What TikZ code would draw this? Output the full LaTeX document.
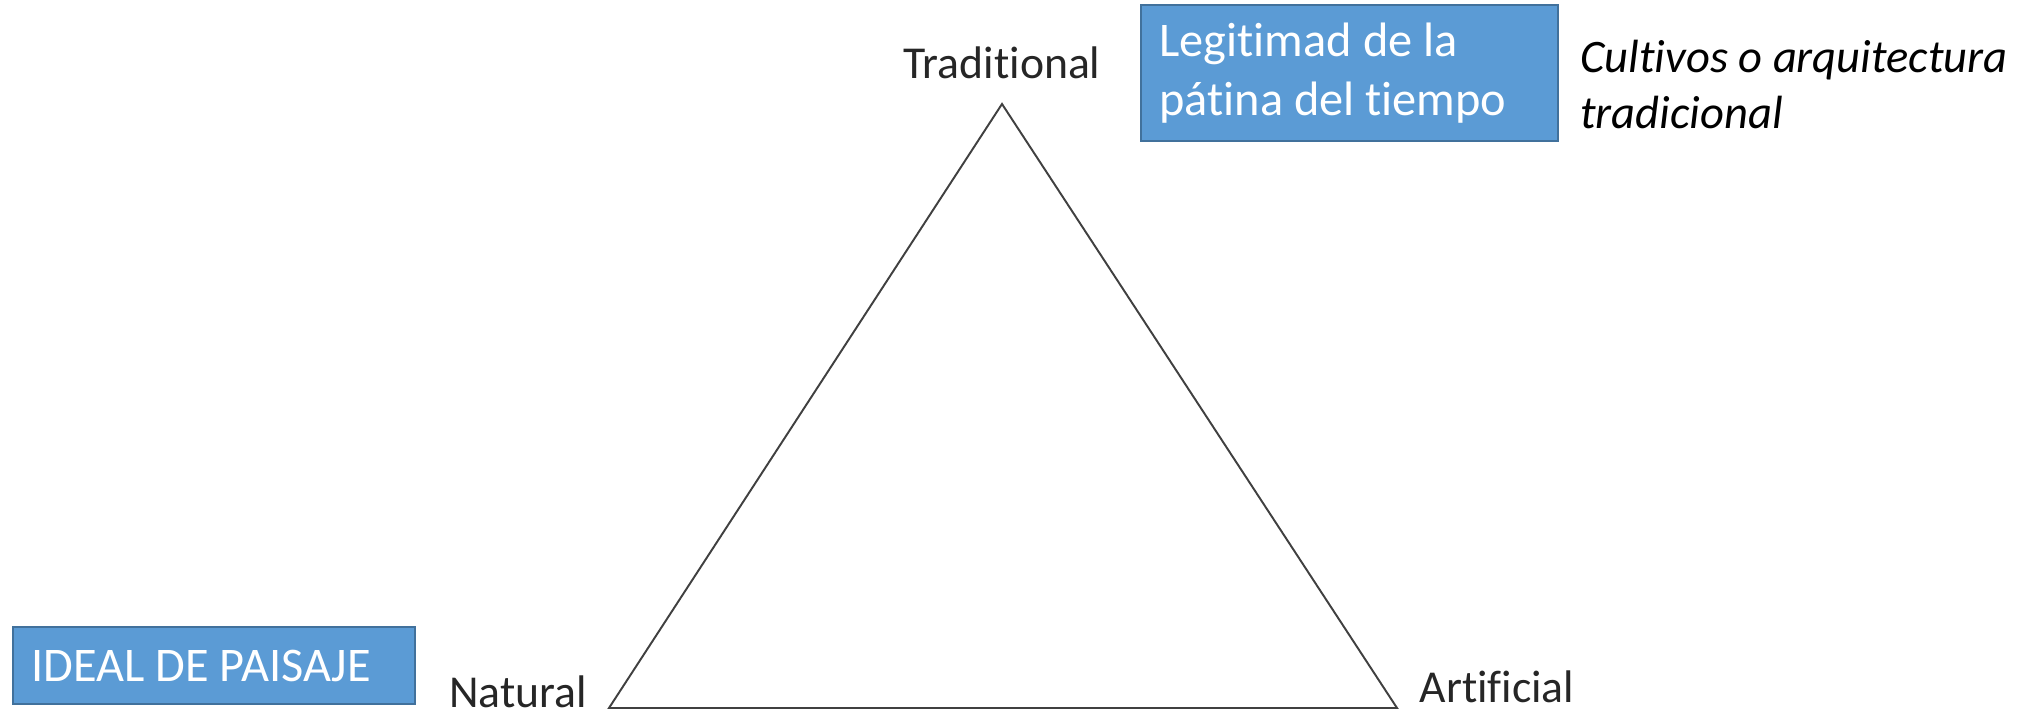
\documentclass[tikz,border=0pt]{standalone}
\usepackage{fontspec}
\setmainfont[Ligatures=NoCommon]{Carlito}
\usepackage{tikz}

\definecolor{boxblue}{HTML}{5B9BD5}
\definecolor{boxedge}{HTML}{41719C}
\definecolor{linegray}{HTML}{404040}

\tikzset{
    bluebox/.style={draw=boxedge, line width=1pt, fill=boxblue, text=white,
        font=\fontsize{27.5}{33.5}\selectfont, align=flush left, inner sep=0pt},
    corner/.style={font=\fontsize{26}{31}\selectfont, text=black!85, inner sep=0pt},
}

\begin{document}
\begin{tikzpicture}
    \useasboundingbox (0,0) rectangle (40.88,14.32);

    % Sommets du triangle
    \coordinate (top) at (20.04,12.24);
    \coordinate (left) at (12.18,0.16);
    \coordinate (right) at (27.94,0.16);

    % Triangle
    \draw[linegray, line width=1.1pt] (top) -- (right) -- (left) -- cycle;

    % Étiquettes des sommets
    \node[corner] (traditional) at (20.04,13.06) {Traditional};
    \node[corner] (natural) at (10.36,0.48) {Natural};
    \node[corner] (artificial) at (29.94,0.58) {Artificial};

    % Boîtes bleues
    \node[bluebox, minimum width=8.34cm, minimum height=2.72cm, text width=7.6cm]
        (legitimad) at (26.99,12.86) {Legitimad de la\\pátina del tiempo};
    \node[bluebox, minimum width=8.04cm, minimum height=1.54cm, text width=7.3cm]
        (ideal) at (4.28,1.01) {IDEAL DE PAISAJE};

    % Texte en italique
    \node[anchor=west, align=left, inner sep=0pt, font=\fontsize{26.5}{32}\selectfont\itshape]
        (cultivos) at (31.6,12.63) {Cultivos o arquitectura\\tradicional};
\end{tikzpicture}
\end{document}
